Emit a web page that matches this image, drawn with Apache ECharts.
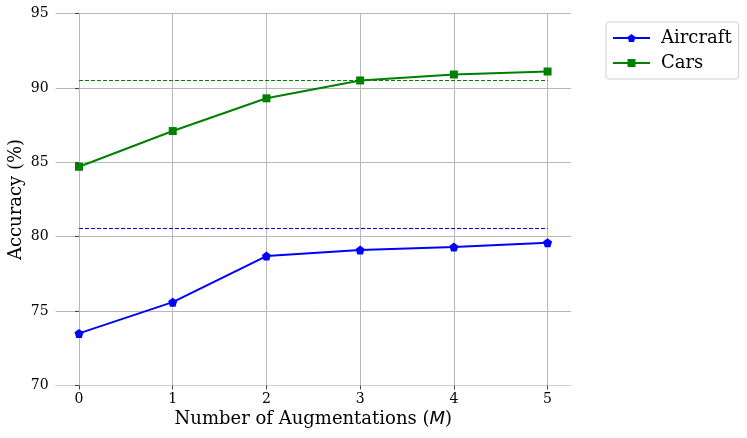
<!DOCTYPE html>
<html>
<head>
<meta charset="utf-8">
<script src="https://cdn.jsdelivr.net/npm/echarts@6/dist/echarts.min.js"></script>
<style>html,body{margin:0;padding:0;background:#fff;}#c{width:747px;height:438px;}</style>
</head>
<body>
<div id="c"></div>
<script>
var numAugmentations = [0, 1, 2, 3, 4, 5];
var aircraftAcc = [73.5, 75.6, 78.7, 79.1, 79.3, 79.6];
var carsAcc = [84.7, 87.1, 89.3, 90.5, 90.9, 91.1];
var aircraftBaseline = 80.6;
var carsBaseline = 90.5;
var yTicks = [70, 75, 80, 85, 90, 95];

var serif = 'DejaVu Serif';
function pairs(xs, ys) { return xs.map(function (x, i) { return [x, ys[i]]; }); }
var pentagon = 'path://M0,-1 L0.951,-0.309 L0.588,0.809 L-0.588,0.809 L-0.951,-0.309 Z';

var chart = echarts.init(document.getElementById('c'), null, {renderer: 'canvas'});
chart.setOption({
  animation: false,
  backgroundColor: '#fff',
  grid: {left: 55.6, right: 176, top: 13.5, bottom: 52.5, containLabel: false, outerBoundsMode: 'none'},
  legend: {
    left: 606, top: 22,
    orient: 'vertical',
    data: ['Aircraft', 'Cars'],
    itemWidth: 37, itemHeight: 10, itemGap: 7,
    padding: [7, 7, 7, 6],
    borderColor: '#d0d0d0', borderWidth: 1, borderRadius: 3,
    textStyle: {fontFamily: serif, fontSize: 18, color: '#000', padding: [0, 0, 0, 6]}
  },
  xAxis: {
    type: 'value', min: -0.25, max: 5.25,
    name: 'Number of Augmentations ({i|M})',
    nameLocation: 'middle', nameGap: 25, nameMoveOverlap: false,
    nameTextStyle: {fontFamily: serif, fontSize: 18, color: '#000',
      rich: {i: {fontFamily: 'DejaVu Sans', fontStyle: 'italic', fontSize: 18, color: '#000'}}},
    axisLine: {show: true, lineStyle: {color: '#d0d0d0', width: 1}},
    axisTick: {show: true, length: 4, lineStyle: {color: '#444'}, customValues: numAugmentations},
    axisLabel: {fontFamily: serif, fontSize: 14, color: '#000', margin: 7, customValues: numAugmentations},
    splitLine: {show: true, lineStyle: {color: '#b8b8b8', width: 1}}
  },
  yAxis: {
    type: 'value', min: 70, max: 95, interval: 5,
    name: 'Accuracy (%)',
    nameLocation: 'middle', nameGap: 30, nameMoveOverlap: false,
    nameTextStyle: {fontFamily: serif, fontSize: 18, color: '#000'},
    axisLine: {show: false},
    axisTick: {show: true, length: 4, lineStyle: {color: '#444'}},
    axisLabel: {fontFamily: serif, fontSize: 14, color: '#000', margin: 7},
    splitLine: {show: true, lineStyle: {color: '#b8b8b8', width: 1}}
  },
  series: [
    {
      name: 'Aircraft', type: 'line', data: pairs(numAugmentations, aircraftAcc),
      color: '#0000ff', symbol: pentagon, symbolSize: 9, showSymbol: true,
      lineStyle: {width: 2, color: '#0000ff'}, itemStyle: {color: '#0000ff'},
      markLine: {
        silent: true, symbol: 'none', label: {show: false},
        lineStyle: {type: [4, 2], width: 1, color: '#0000ff'},
        data: [[{coord: [numAugmentations[0], aircraftBaseline]}, {coord: [numAugmentations[5], aircraftBaseline]}]]
      }
    },
    {
      name: 'Cars', type: 'line', data: pairs(numAugmentations, carsAcc),
      color: '#008000', symbol: 'rect', symbolSize: 8, showSymbol: true,
      lineStyle: {width: 2, color: '#008000'}, itemStyle: {color: '#008000'},
      markLine: {
        silent: true, symbol: 'none', label: {show: false},
        lineStyle: {type: [4, 2], width: 1, color: '#008000'},
        data: [[{coord: [numAugmentations[0], carsBaseline]}, {coord: [numAugmentations[5], carsBaseline]}]]
      }
    }
  ]
});
</script>
</body>
</html>
